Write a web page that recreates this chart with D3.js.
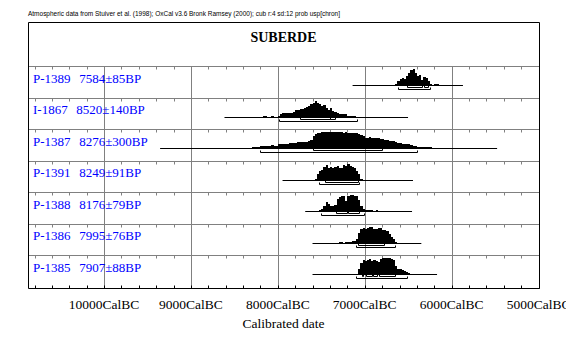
<!DOCTYPE html>
<html>
<head>
<meta charset="utf-8">
<script src="https://cdn.jsdelivr.net/npm/d3@7"></script>
<style>
  body { margin: 0; background: #fff; }
  text { font-family: "Liberation Serif", "Times New Roman", serif; }
</style>
</head>
<body>
<script>
const width = 566;
const height = 359;

// sample labels
const labIds = ["P-1389", "I-1867", "P-1387", "P-1391", "P-1388", "P-1386", "P-1385"];
const bpDates = [7584, 8520, 8276, 8249, 8176, 7995, 7907];
const bpErrors = [85, 140, 300, 91, 79, 76, 88];

// full extent of each calibrated distribution (cal BC)
const lineRanges = [
  [7140, 5870], [8614, 6502], [9355, 5477], [7946, 6445],
  [7685, 6456], [7601, 6349], [7601, 6168]
];

// probability histograms, 25 year bins starting at distStarts (cal BC), % of peak
const distStep = 25;
const distStarts = [6650, 8175, 8425, 7575, 7525, 7325, 7075];
const probs1389 = [12, 30, 38, 44, 38, 56, 75, 94, 100, 75, 56, 62, 31, 50, 44, 25, 12, 3, 12, 12, 6, 6];
const probs1867 = [8, 8, 6, 0, 12, 3, 2, 12, 19, 29, 29, 25, 25, 28, 34, 44, 44, 50, 54, 59, 66, 69, 81,
  88, 100, 88, 81, 69, 75, 56, 44, 56, 38, 31, 28, 23, 22, 19, 22, 12, 12, 9, 8, 6, 3];
const probs1387 = [6, 6, 3, 6, 6, 8, 9, 12, 12, 14, 18, 17, 18, 18, 20, 18, 18, 25, 28, 29, 28, 29, 31,
  31, 31, 34, 37, 37, 39, 40, 40, 43, 49, 74, 86, 92, 95, 98, 100, 100, 100, 98, 100, 97, 100, 98, 98,
  96, 98, 96, 95, 96, 94, 92, 86, 80, 74, 64, 64, 67, 64, 64, 61, 61, 58, 55, 52, 49, 46, 46, 43, 37,
  34, 31, 28, 25, 25, 25, 21, 18, 18, 12, 12, 12, 12, 12, 11, 9];
const probs1391 = [12, 37, 55, 64, 80, 94, 74, 82, 74, 83, 88, 77, 74, 94, 88, 100, 86, 80, 74, 55, 37, 12];
const probs1388 = [9, 15, 35, 55, 43, 31, 31, 40, 75, 90, 96, 92, 61, 95, 100, 98, 96, 95, 72, 36, 14,
  10, 9, 8, 9, 6, 8, 4, 6, 3];
const probs1386 = [3, 8, 8, 4, 8, 12, 10, 14, 15, 28, 61, 88, 92, 90, 94, 98, 100, 90, 86, 94, 92, 82,
  80, 74, 55, 37, 25, 12];
const probs1385 = [31, 72, 88, 82, 86, 92, 82, 88, 83, 75, 96, 100, 100, 100, 100, 96, 86, 51, 31, 31,
  25, 20, 15, 9];
const distProbs = [probs1389, probs1867, probs1387, probs1391, probs1388, probs1386, probs1385];

// 68.2% and 95.4% ranges (cal BC)
const ranges68 = [
  [[6510, 6340], [6315, 6270]],
  [[7750, 7405], [7395, 7347]],
  [[7601, 6802]],
  [[7463, 7078]],
  [[7328, 7205], [7198, 7065]],
  [[7075, 6780]],
  [[7030, 7015], [6985, 6915], [6900, 6860], [6840, 6650]]
];
const ranges95 = [
  [[6614, 6245]], [[7992, 7089]], [[8200, 6399]], [[7524, 7063]],
  [[7502, 7005]], [[7100, 6648]], [[7101, 6514]]
];

const gridYears = [10000, 9000, 8000, 7000, 6000, 5000];
const tickLabels = ["10000CalBC", "9000CalBC", "8000CalBC", "7000CalBC", "6000CalBC", "5000CalBC"];
const minorYears = d3.range(10800, 4999, -200);

let margin = { top: 22, right: 27, bottom: 71, left: 28 };
const crisp = (v) => Math.round(v) + 0.5;

let svg = d3
  .select("body")
  .append("svg")
  .attr("width", width)
  .attr("height", height);

let x = d3
  .scaleLinear()
  .domain([10875, 4995])
  .range([margin.left, width - margin.right]);

let yBand = d3
  .scaleBand()
  .domain(d3.range(labIds.length))
  .range([66, 286.8]);

let h = d3.scaleLinear().domain([0, 100]).range([0, 16.5]);

let plotBottom = height - margin.bottom + 0.5;

// header note
svg
  .append("text")
  .attr("x", margin.left)
  .attr("y", 16)
  .attr("font-size", 7)
  .style("font-family", "Liberation Sans, Arial, sans-serif")
  .attr("textLength", 312)
  .attr("lengthAdjust", "spacingAndGlyphs")
  .text("Atmospheric data from Stuiver et al. (1998); OxCal v3.6 Bronk Ramsey (2000); cub r:4 sd:12 prob usp[chron]");

svg
  .append("text")
  .attr("x", (margin.left + width - margin.right) / 2)
  .attr("y", 42)
  .attr("text-anchor", "middle")
  .attr("font-size", 14)
  .attr("font-weight", "bold")
  .text("SUBERDE");

// grid
let grid = svg.append("g").attr("stroke", "#808080").attr("stroke-width", 1);

grid
  .selectAll("line.v")
  .data(gridYears)
  .join("line")
  .attr("class", "v")
  .attr("x1", (d) => crisp(x(d)))
  .attr("x2", (d) => crisp(x(d)))
  .attr("y1", crisp(yBand(0)))
  .attr("y2", plotBottom);

grid
  .selectAll("line.h")
  .data(d3.range(labIds.length))
  .join("line")
  .attr("class", "h")
  .attr("x1", margin.left)
  .attr("x2", width - margin.right)
  .attr("y1", (d) => crisp(yBand(d)))
  .attr("y2", (d) => crisp(yBand(d)));

// minor ticks hanging from each row top
d3.range(labIds.length).forEach((r) => {
  grid
    .append("g")
    .selectAll("line")
    .data(minorYears)
    .join("line")
    .attr("x1", (d) => crisp(x(d)))
    .attr("x2", (d) => crisp(x(d)))
    .attr("y1", crisp(yBand(r)))
    .attr("y2", crisp(yBand(r)) + 3);
});

// rows
let rows = svg
  .selectAll("g.row")
  .data(labIds)
  .join("g")
  .attr("class", "row");

rows.each(function (id, r) {
  let g = d3.select(this);
  let base = crisp(yBand(r) + 19);

  let pts = distProbs[r].map((p, i) => ({ bc: distStarts[r] - i * distStep, p: p }));
  pts.push({ bc: distStarts[r] - distProbs[r].length * distStep, p: 0 });

  let area = d3
    .area()
    .curve(d3.curveStepAfter)
    .x((d) => x(d.bc))
    .y0(base)
    .y1((d) => base - h(d.p));

  g.append("path")
    .attr("d", area(pts))
    .attr("fill", "#000")
    .attr("shape-rendering", "crispEdges");

  g.append("line")
    .attr("x1", x(lineRanges[r][0]))
    .attr("x2", x(lineRanges[r][1]))
    .attr("y1", base)
    .attr("y2", base)
    .attr("stroke", "#000");

  let bracket = (d, yy) =>
    `M${crisp(x(d[0]))},${yy - 2}V${yy}H${crisp(x(d[1]))}V${yy - 2}`;

  g.selectAll("path.r68")
    .data(ranges68[r])
    .join("path")
    .attr("class", "r68")
    .attr("d", (d) => bracket(d, base + 2))
    .attr("fill", "none")
    .attr("stroke", "#000");

  g.selectAll("path.r95")
    .data(ranges95[r])
    .join("path")
    .attr("class", "r95")
    .attr("d", (d) => bracket(d, base + 4))
    .attr("fill", "none")
    .attr("stroke", "#000");

  let label = g
    .append("text")
    .attr("x", 33)
    .attr("y", yBand(r) + 16.7)
    .attr("font-size", 13)
    .attr("fill", "#0000ff");
  label.append("tspan").text(id);
  label
    .append("tspan")
    .attr("dx", 8.6)
    .text(`${bpDates[r]}±${bpErrors[r]}BP`);
});

// frame
let frame = svg.append("g").attr("stroke", "#000").attr("fill", "none");
frame
  .append("path")
  .attr(
    "d",
    `M${crisp(margin.left)},${plotBottom}V${crisp(margin.top)}H${crisp(width - margin.right)}V${plotBottom}H${crisp(margin.left)}`
  );

frame
  .selectAll("line")
  .data(minorYears)
  .join("line")
  .attr("x1", (d) => crisp(x(d)))
  .attr("x2", (d) => crisp(x(d)))
  .attr("y1", plotBottom)
  .attr("y2", plotBottom - 3);

// axis labels
svg
  .selectAll("text.tick")
  .data(gridYears)
  .join("text")
  .attr("class", "tick")
  .attr("x", (d) => x(d))
  .attr("y", 309)
  .attr("text-anchor", "middle")
  .attr("font-size", 13.5)
  .text((d, i) => tickLabels[i]);

svg
  .append("text")
  .attr("x", (margin.left + width - margin.right) / 2)
  .attr("y", 328)
  .attr("text-anchor", "middle")
  .attr("font-size", 13.5)
  .text("Calibrated date");
</script>
</body>
</html>
